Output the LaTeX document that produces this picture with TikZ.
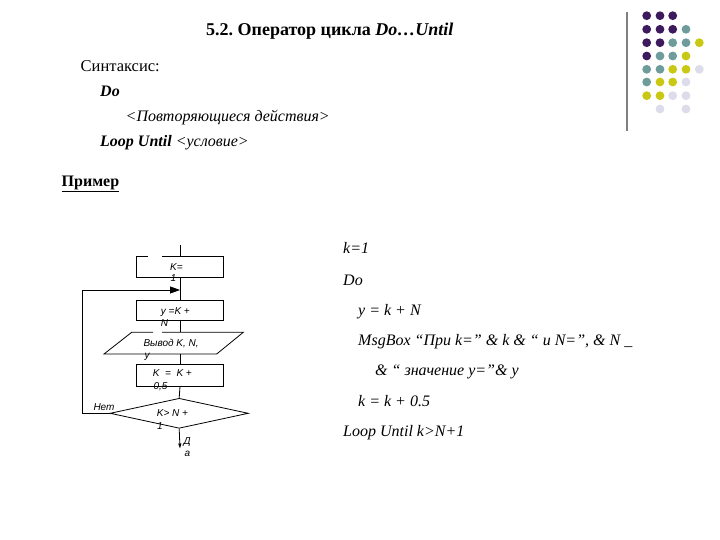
\documentclass[tikz,border=0pt]{standalone}
\usepackage{fontspec}
\setmainfont{Liberation Serif}
\newfontfamily\fcsans{Liberation Sans}
\usetikzlibrary{arrows.meta,shapes.geometric}
\definecolor{dpurple}{HTML}{3D1A5E}
\definecolor{dteal}{HTML}{6D9C9B}
\definecolor{dyellow}{HTML}{C9C814}
\definecolor{dlav}{HTML}{DCDCEA}
\frenchspacing
\begin{document}
\begin{tikzpicture}[x=1pt,y=-1pt,
  blk/.style={draw, line width=0.8pt, minimum width=86.6pt, minimum height=20.5pt, inner sep=0pt},
  fc/.style={font=\fcsans\itshape\fontsize{10}{11}\selectfont, anchor=base west, inner sep=0pt},
  code/.style={font=\itshape\fontsize{16}{18}\selectfont, anchor=base west, inner sep=0pt},
  txt/.style={anchor=base west, inner sep=0pt},
  con/.style={line width=0.8pt}]
\useasboundingbox (0,0) rectangle (720,540);

% title and syntax
\node[txt, font=\bfseries\fontsize{18}{21}\selectfont] (title) at (206,36) {5.2. Оператор цикла \textit{Do…Until}};
\node[txt, font=\fontsize{16.5}{19}\selectfont] (syn) at (80.5,71.5) {Синтаксис:};
\node[txt, font=\bfseries\itshape\fontsize{16}{19}\selectfont] (sdo) at (100,97) {Do};
\node[txt, font=\itshape\fontsize{16}{19}\selectfont] (srep) at (125.5,121.5) {<Повторяющиеся действия>};
\node[txt, font=\fontsize{16}{19}\selectfont] (sloop) at (100,146.5) {\textbf{\textit{Loop Until}} \textit{<условие>}};
\node[txt, font=\bfseries\fontsize{16}{19}\selectfont] (ex) at (61.5,186.5) {\underline{Пример}};

% decoration
\draw[gray, line width=2pt] (626.7,12) -- (626.7,131);
\foreach \c/\x/\y in {
  dpurple/646.7/15.7, dpurple/660/15.7, dpurple/672.7/15.7,
  dpurple/646.7/29.3, dpurple/660/29.3, dpurple/672.7/29.3, dteal/686/29.3,
  dpurple/646.7/42.7, dpurple/660/42.7, dteal/672.7/42.7, dteal/686/42.7, dyellow/699.3/42.7,
  dpurple/646.7/56, dteal/660/56, dteal/672.7/56, dyellow/686/56,
  dteal/646.7/69.3, dteal/660/69.3, dyellow/672.7/69.3, dyellow/686/69.3, dlav/699.3/69.3,
  dteal/646.7/82, dyellow/660/82, dyellow/672.7/82, dlav/686/82,
  dyellow/646.7/95.7, dyellow/660/95.7, dlav/672.7/95.7, dlav/686/95.7,
  dlav/660/109, dlav/686/109}
  \fill[\c] (\x,\y) circle (4.4);

% flowchart
\coordinate (top) at (180,245);
\node[blk] (k1) at (180,266.7) {};
\draw[white, line width=1.6pt] (148,256.45) -- (162,256.45);
\node[blk] (yk) at (180,310.4) {};
\coordinate (pA) at (131.7,332.3);
\coordinate (pB) at (243.3,332.3);
\coordinate (pC) at (216.7,354);
\coordinate (pD) at (104,354);
\coordinate (pin) at (180,332.3);
\coordinate (pout) at (180,354);
\draw[con] (153,332.3) -- (pA) -- (pD) -- (pC) -- (pB) -- (162,332.3);
\node[blk, minimum height=21.7pt] (kk) at (180,375.2) {};
\node[draw, diamond, line width=0.8pt, minimum width=138.3pt, minimum height=30pt, inner sep=0pt] (cond) at (179.2,413.3) {};
\coordinate (merge) at (180,290);
\coordinate (lcorner) at (82.7,290);
\coordinate (yes) at (180,448.5);

\draw[con] (top) -- (k1.north);
\draw[con] (k1.south) -- (yk.north);
\draw[con] (yk.south) -- (pin);
\draw[con] (pout) -- (kk.north);
\draw[con] (kk.south) -- (cond.north);
\draw[con, -{Triangle[length=10pt,width=7pt]}] (cond.west) -| (lcorner) -- (merge);
\draw[con, -{Triangle[length=5pt,width=3pt]}] (cond.south) -- (yes);

\node[fc] (l1a) at (170,270) {K=};
\node[fc] (l1b) at (170.5,281.7) {1};
\node[fc] (l2a) at (160.7,314) {y =K +};
\node[fc] (l2b) at (160.7,326.5) {N};
\node[fc] (l3a) at (143.3,346.7) {Вывод K, N,};
\node[fc] (l3b) at (144.3,358.7) {y};
\node[fc] (l4a) at (152.7,376.7) {K \ = \ K +};
\node[fc] (l4b) at (153.3,389.5) {0,5};
\node[fc] (l5a) at (156.7,416) {K> N +};
\node[fc] (l5b) at (157,429) {1};
\node[fc] (lno) at (93.3,410) {Нет};
\node[fc] (lya) at (183.3,444) {Д};
\node[fc] (lyb) at (184.3,456) {а};

% code
\node[code] (c1) at (343,254) {k=1};
\node[code] (c2) at (343,285) {Do};
\node[code] (c3) at (358,315.3) {y = k + N};
\node[code] (c4) at (358,345) {MsgBox “При k=” \& k \& “ и N=”, \& N \_};
\node[code] (c5) at (375,375.7) {\& “ значение y=”\& y};
\node[code] (c6) at (358,406) {k = k + 0.5};
\node[code] (c7) at (343,436.7) {Loop Until k>N+1};
\end{tikzpicture}
\end{document}
